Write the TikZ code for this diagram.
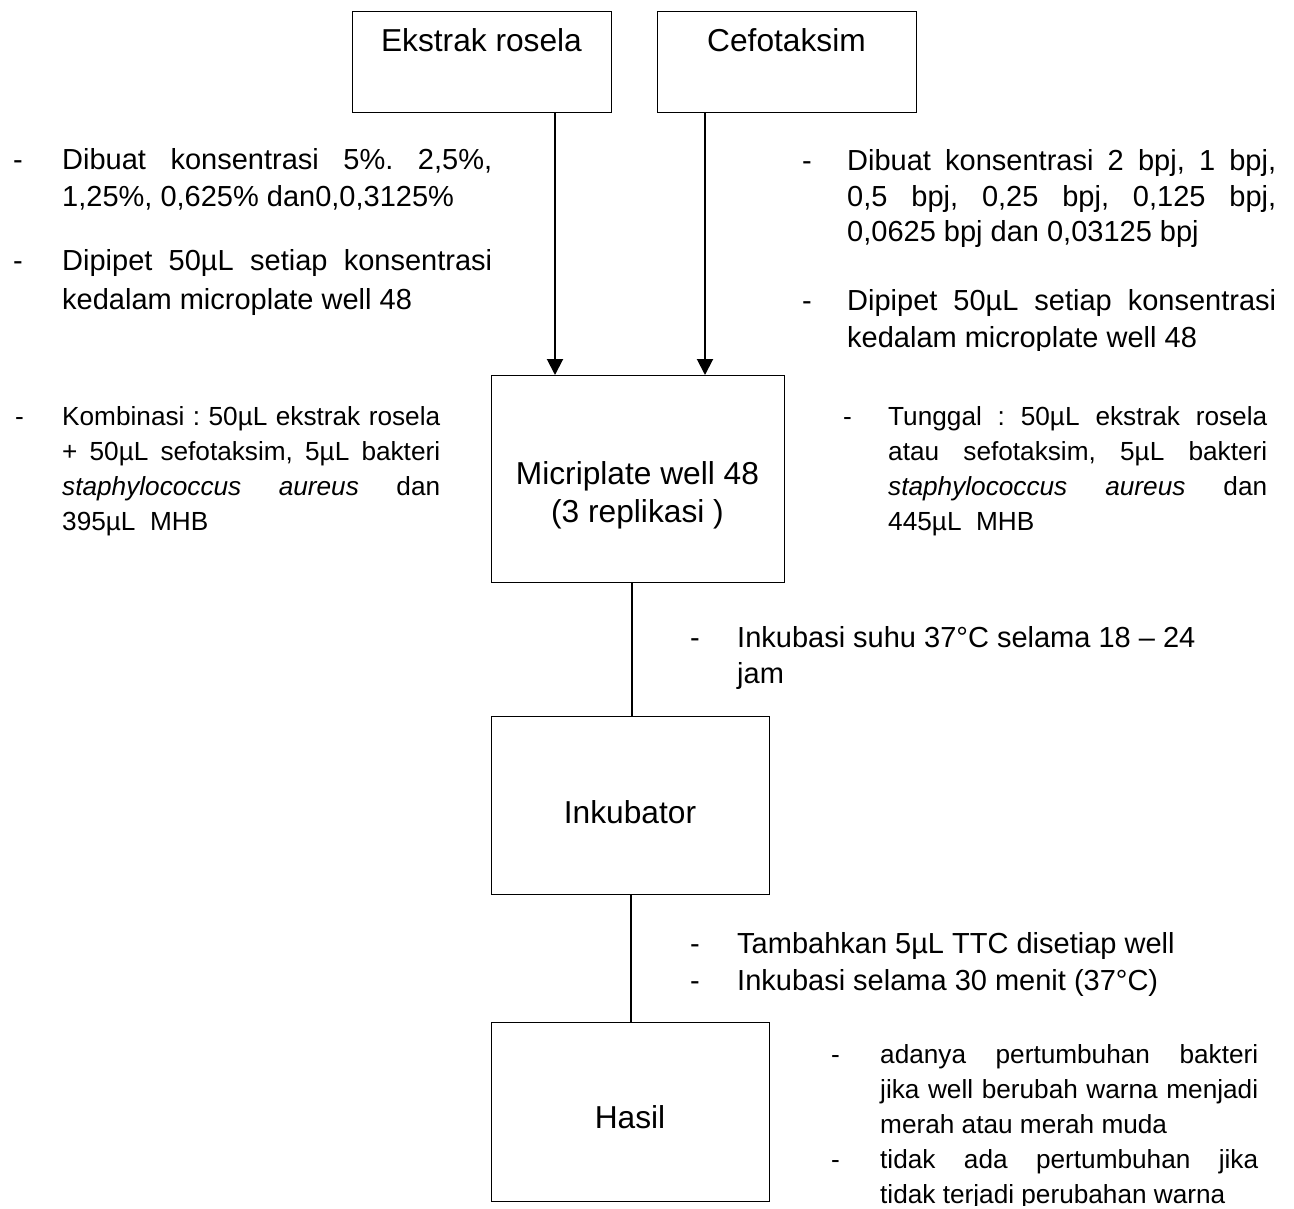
\documentclass[tikz,border=0pt]{standalone}
\usepackage{fontspec}
\setmainfont{Liberation Sans}
\usetikzlibrary{arrows.meta}
\frenchspacing
\newcommand\boxfont{\fontsize{31.7}{38}\selectfont}
\newcommand\bodyfont{\fontsize{29}{37}\selectfont}
\newcommand\smallfont{\fontsize{26.2}{35}\selectfont}
\newcommand\jl[2]{\makebox[#1][s]{#2}}
\tikzset{
  box/.style={draw, line width=1.2pt, inner sep=0pt, anchor=north west},
  bt/.style={font=\boxfont, anchor=base, inner sep=0pt},
  ln/.style={font=\bodyfont, anchor=base west, inner sep=0pt},
  sm/.style={font=\smallfont, anchor=base west, inner sep=0pt},
  arr/.style={line width=2pt, -{Triangle[width=16pt,length=16pt]}},
  con/.style={line width=1.2pt},
}
\begin{document}
\frenchspacing
\begin{tikzpicture}[x=1pt,y=-1pt]
\useasboundingbox (0,0) rectangle (1294,1209);
\fill[white] (0,0) rectangle (1294,1209);

% boxes
\node[box, minimum width=259pt, minimum height=101pt] (A) at (352,11) {};
\node[box, minimum width=259pt, minimum height=101pt] (B) at (657,11) {};
\node[box, minimum width=293pt, minimum height=207pt] (M) at (491,375) {};
\node[box, minimum width=278pt, minimum height=178pt] (I) at (491,716) {};
\node[box, minimum width=278pt, minimum height=179pt] (H) at (491,1022) {};

% box texts
\node[bt] (At) at (481.5,52) {Ekstrak rosela};
\node[bt] (Bt) at (786.5,52) {Cefotaksim};
\node[bt] (Mt1) at (637.5,484) {Micriplate well 48};
\node[bt] (Mt2) at (637.5,522) {(3 replikasi )};
\node[bt] (It) at (630,823) {Inkubator};
\node[bt] (Ht) at (630,1128) {Hasil};

% connectors
\draw[arr] ([xshift=203pt]A.south west) -- ([xshift=203pt]A.south west |- M.north);
\draw[arr] ([xshift=48pt]B.south west) -- ([xshift=48pt]B.south west |- M.north);
\draw[con] ([xshift=141pt]M.south west) -- ([xshift=141pt]M.south west |- I.north);
\draw[con] ([xshift=140pt]I.south west) -- ([xshift=140pt]I.south west |- H.north);

% left body text
\node[ln] (ld1) at (13,170) {-};
\node[ln] (l1a) at (62,170) {\jl{430pt}{Dibuat konsentrasi 5\%. 2,5\%,}};
\node[ln] (l1b) at (62,207) {1,25\%, 0,625\% dan0,0,3125\%};
\node[ln] (ld2) at (13,271) {-};
\node[ln] (l2a) at (62,271) {\jl{430pt}{Dipipet 50µL setiap konsentrasi}};
\node[ln] (l2b) at (62,309) {kedalam microplate well 48};

% left small text
\node[sm] (ld3) at (15,425) {-};
\node[sm] (l3a) at (62,425) {\jl{378pt}{Kombinasi : 50µL ekstrak rosela}};
\node[sm] (l3b) at (62,460) {\jl{378pt}{+ 50µL sefotaksim, 5µL bakteri}};
\node[sm] (l3c) at (62,495) {\jl{378pt}{\textit{staphylococcus} \textit{aureus} dan}};
\node[sm] (l3d) at (62,530) {395µL\ \ MHB};

% right body text
\node[ln] (rd1) at (802,171) {-};
\node[ln] (r1a) at (847,171) {\jl{429pt}{Dibuat konsentrasi 2 bpj, 1 bpj,}};
\node[ln] (r1b) at (847,207) {\jl{429pt}{0,5 bpj, 0,25 bpj, 0,125 bpj,}};
\node[ln] (r1c) at (847,242) {0,0625 bpj dan 0,03125 bpj};
\node[ln] (rd2) at (802,310) {-};
\node[ln] (r2a) at (847,310) {\jl{429pt}{Dipipet 50µL setiap konsentrasi}};
\begin{scope}
\clip (800,320) rectangle (1294,350);
\node[ln] (r2b) at (847,347) {kedalam microplate well 48};
\end{scope}

% right small text
\node[sm] (rd3) at (843,425) {-};
\node[sm] (r3a) at (888,425) {\jl{379pt}{Tunggal : 50µL ekstrak rosela}};
\node[sm] (r3b) at (888,460) {\jl{379pt}{atau sefotaksim, 5µL bakteri}};
\node[sm] (r3c) at (888,495) {\jl{379pt}{\textit{staphylococcus} \textit{aureus} dan}};
\node[sm] (r3d) at (888,530) {445µL\ \ MHB};

% middle texts
\node[ln] (md1) at (690,647) {-};
\node[ln] (m1a) at (737,647) {Inkubasi suhu 37°C selama 18 – 24};
\node[ln] (m1b) at (737,683) {jam};
\node[ln] (md2) at (690,953) {-};
\node[ln] (m2a) at (737,953) {Tambahkan 5µL TTC disetiap well};
\node[ln] (md3) at (690,990) {-};
\node[ln] (m3a) at (737,990) {Inkubasi selama 30 menit (37°C)};

% bottom right small text
\node[sm] (bd1) at (831,1063) {-};
\node[sm] (b1a) at (880,1063) {\jl{378pt}{adanya pertumbuhan bakteri}};
\node[sm] (b1b) at (880,1098) {\jl{378pt}{jika well berubah warna menjadi}};
\node[sm] (b1c) at (880,1133) {merah atau merah muda};
\node[sm] (bd2) at (831,1168) {-};
\node[sm] (b2a) at (880,1168) {\jl{378pt}{tidak ada pertumbuhan jika}};
\begin{scope}
\clip (800,1180) rectangle (1294,1205);
\node[sm] (b2b) at (880,1203) {tidak terjadi perubahan warna};
\end{scope}
\end{tikzpicture}
\end{document}
